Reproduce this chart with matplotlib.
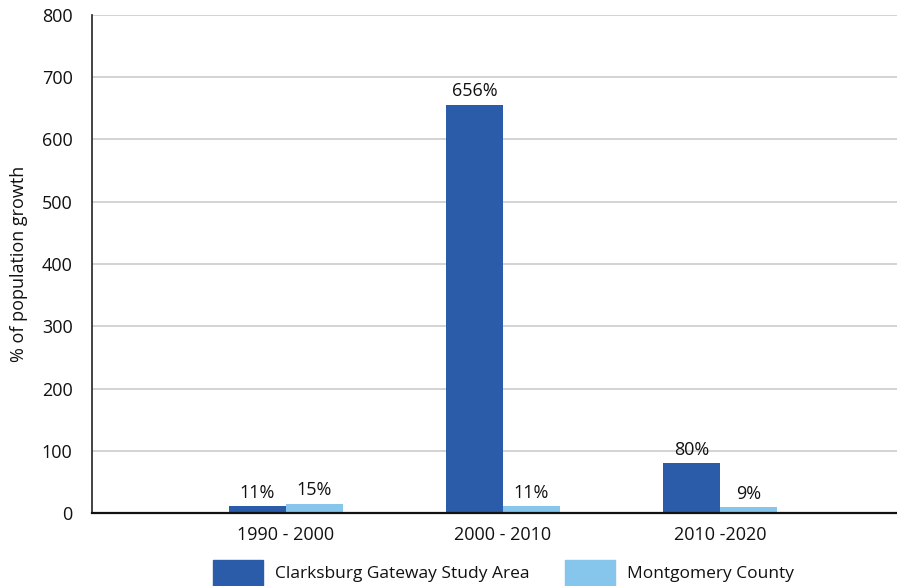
import matplotlib
matplotlib.use("Agg")
import matplotlib.pyplot as plt
from matplotlib.patches import Rectangle
import numpy as np

plt.rcParams['font.family'] = ['Open Sans', 'DejaVu Sans']

periods = ["1990 - 2000", "2000 - 2010", "2010 -2020"]
clarksburg = [11, 656, 80]
montgomery = [15, 11, 9]
series_names = ["Clarksburg Gateway Study Area", "Montgomery County"]
dark_blue = "#2A5CAA"
light_blue = "#86C5EC"

W, H = 897, 586
fig = plt.figure(figsize=(W / 100, H / 100), dpi=100)
ax = fig.add_axes([92 / W, 73 / H, (W - 92) / W, (513 - 15) / H])

x = np.arange(len(periods))
bw = 0.262
b1 = ax.bar(x - bw / 2, clarksburg, bw, color=dark_blue, zorder=3)
b2 = ax.bar(x + bw / 2, montgomery, bw, color=light_blue, zorder=3)

for bars, vals in ((b1, clarksburg), (b2, montgomery)):
    for r, v in zip(bars, vals):
        ax.annotate(f"{v}%", (r.get_x() + r.get_width() / 2, v),
                    xytext=(0, 3), textcoords="offset points",
                    ha="center", va="bottom", fontsize=13, color="#111111")

ax.set_ylim(0, 800)
ax.set_yticks(range(0, 801, 100))
ax.set_xlim(-0.894, 2.816)
ax.set_xticks(x)
ax.set_xticklabels(periods)
ax.tick_params(axis="both", length=0, labelsize=13, colors="#111111")
ax.tick_params(axis="y", pad=14)
ax.tick_params(axis="x", pad=9)
ax.yaxis.grid(True, color="#d0d0d0", lw=1.3, zorder=0)
ax.set_axisbelow(True)
for s in ("top", "right"):
    ax.spines[s].set_visible(False)
ax.spines["left"].set_color("#222222")
ax.spines["left"].set_linewidth(1.2)
ax.spines["bottom"].set_color("#111111")
ax.spines["bottom"].set_linewidth(1.6)
ax.spines["bottom"].set_zorder(4)
ax.set_ylabel("% of population growth", fontsize=13, color="#111111", labelpad=10)

# legend drawn along the bottom edge
for px, name, col in ((213, series_names[0], dark_blue), (565, series_names[1], light_blue)):
    fig.add_artist(Rectangle((px / W, 0), 50 / W, 26 / H, transform=fig.transFigure,
                             color=col, clip_on=False))
    fig.text((px + 62) / W, 12 / H, name, fontsize=12.5, va="center", ha="left",
             color="#111111")

fig.savefig("out.png", dpi=100)
